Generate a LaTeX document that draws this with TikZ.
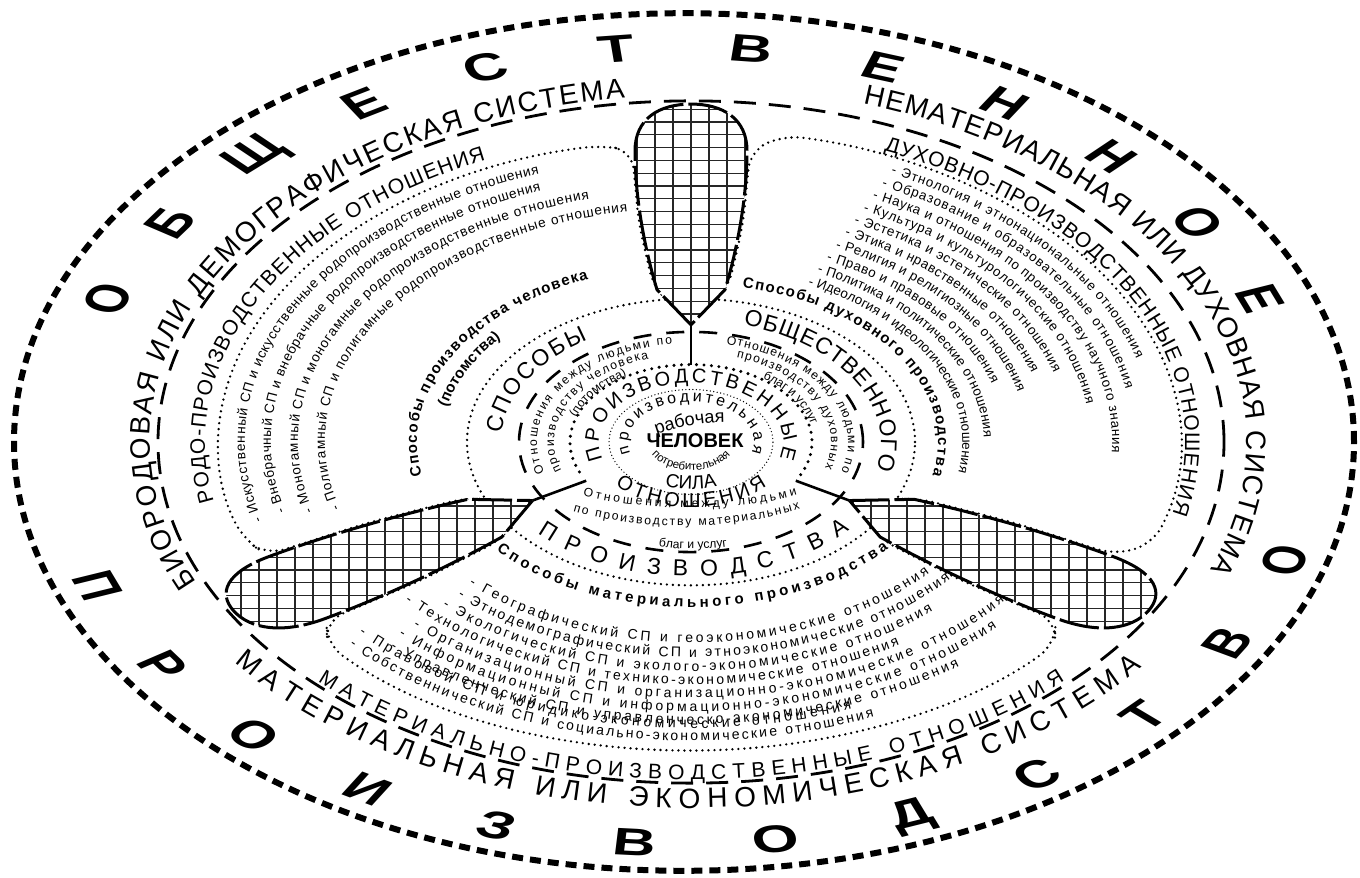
\documentclass[tikz,border=0pt]{standalone}
\usepackage{fontspec}
\setmainfont{Liberation Sans}
\usepackage{graphicx}
\usetikzlibrary{decorations.text}

\newcommand\myBig{\fontsize{60}{62}\selectfont\bfseries}
\newcommand\mySys{\fontsize{28}{30}\selectfont}
\newcommand\myRel{\fontsize{21}{23}\selectfont}
\newcommand\myListL{\fontsize{13.6}{15}\selectfont}
\newcommand\myListR{\fontsize{13.4}{15}\selectfont}
\newcommand\myList{\fontsize{14}{16}\selectfont}
\newcommand\myLab{\fontsize{15}{17}\selectfont\bfseries}
\newcommand\myRing{\fontsize{23}{25}\selectfont}
\newcommand\myCore{\fontsize{20}{22}\selectfont}
\newcommand\myInner{\fontsize{12.2}{14}\selectfont}
\newcommand\myProd{\fontsize{16}{18}\selectfont}
\newcommand\mySila{\fontsize{19}{21}\selectfont}
\newcommand\myTiny{\fontsize{11.5}{13}\selectfont}

\newcommand\arctext[5]{%
  \pgfmathsetmacro\arcry{#1*0.64}%
  \path[decorate,decoration={text along path,text={#5},text align={#4}}]
    (#2:#1 and \arcry) arc[start angle=#2,end angle=#3,x radius=#1,y radius=\arcry];}

\newcommand\petalpath{(0,183) -- (-34,238) .. controls (-46,300) and (-56,380) .. (-56,455) .. controls (-56,505) and (-32,528) .. (0,528) .. controls (32,528) and (56,505) .. (56,455) .. controls (56,380) and (46,300) .. (34,238) -- cycle}

\begin{document}
\begin{tikzpicture}[x=1pt,y=1pt,
  outerring/.style={line width=6pt, dash pattern=on 11pt off 7pt},
  sysring/.style={line width=2.8pt, dash pattern=on 22pt off 13pt},
  dotline/.style={line width=2.6pt, line cap=round, dash pattern=on 0pt off 6pt},
  bigdotline/.style={line width=3.4pt, line cap=round, dash pattern=on 0pt off 7.5pt},
  finedotline/.style={line width=1.4pt, line cap=round, dash pattern=on 0pt off 3.5pt},
  ringdash/.style={line width=2.6pt, dash pattern=on 18pt off 15pt},
  petalline/.style={line width=3pt, dash pattern=on 40pt off 5pt, line join=round},
  gridline/.style={line width=1.2pt, black!85},
  conn/.style={line width=2.6pt},
  bigletter/.style={inner sep=0pt}]

\path[use as bounding box, fill=white] (0,0) rectangle (1360,878);

% ---------- outer ring and big letters ----------
\begin{scope}[shift={(684,436)}]
  \draw[outerring] (0,0) ellipse[x radius=670, y radius=428.8];
  \foreach \L [count=\i from 0] in {О,Б,Щ,Е,С,Т,В,Е,Н,Н,О,Е}{
    \pgfmathsetmacro\lang{158.75-12.5*\i}
    \pgfmathsetmacro\lrot{\lang-90}
    \node[bigletter] (top\i) at (\lang:618 and 395.5) {\scalebox{1}[0.64]{\rotatebox{\lrot}{\myBig\L}}};
  }
  \foreach \L [count=\i from 0] in {П,Р,О,И,З,В,О,Д,С,Т,В,О}{
    \pgfmathsetmacro\lang{201+12.9*\i}
    \pgfmathsetmacro\lrot{\lang+90}
    \node[bigletter] (bot\i) at (\lang:628 and 402) {\scalebox{1}[0.64]{\rotatebox{\lrot}{\myBig\L}}};
  }
\end{scope}

% ---------- inner structure ----------
\begin{scope}[shift={(691,436)}]
  \begin{scope}[yscale=0.64]
    \draw[sysring] (0,0) circle[radius=533];
    \foreach \pa/\pb/\ro in {90/210/472, -30/90/488, 210/330/482}{
      \pgfmathsetmacro\sa{\pa+11}
      \pgfmathsetmacro\sb{\pb-11}
      \draw[dotline, rounded corners=18pt] (\pa+6.5:224) -- (\pa+8.8:241) -- (\pa+8.7:345) -- (\pa+7.4:459) -- (\sa:\ro)
        arc[start angle=\sa, end angle=\sb, radius=\ro]
        -- (\pb-7.4:459) -- (\pb-8.7:345) -- (\pb-8.8:241) -- (\pb-6.5:224);
    }
    \draw[dotline] (0,0) circle[radius=224];
    \draw[ringdash] (0,0) circle[radius=172];
    \draw[bigdotline] (-25:121) arc[start angle=-25, end angle=205, radius=121];
    \draw[finedotline] (0,0) circle[radius=82];
    \foreach \r in {0,120,240}{
      \begin{scope}
        \clip[rotate=\r] \petalpath;
        \fill[white] (-700,-700) rectangle (700,700);
        \draw[gridline, xstep=18, ystep=20] (-700,-700) grid (700,700);
      \end{scope}
      \draw[petalline, rotate=\r] \petalpath;
    }
    \coordinate (tipT) at (90:183);  \coordinate (hubT) at (90:121);
    \coordinate (tipL) at (210:183); \coordinate (hubL) at (210:121);
    \coordinate (tipR) at (330:183); \coordinate (hubR) at (330:121);
    \draw[conn] (tipT) -- (hubT);
    \draw[conn] (tipL) -- (hubL);
    \draw[conn] (tipR) -- (hubR);
  \end{scope}

  % system texts
  \arctext{541}{204}{97}{fit to path}{|\mySys|БИОРОДОВАЯ ИЛИ ДЕМОГРАФИЧЕСКАЯ СИСТЕМА}
  \arctext{556}{72}{-21}{fit to path}{|\mySys|НЕМАТЕРИАЛЬНАЯ ИЛИ ДУХОВНАЯ СИСТЕМА}
  \arctext{572}{217}{322}{fit to path}{|\mySys|МАТЕРИАЛЬНАЯ ИЛИ ЭКОНОМИЧЕСКАЯ СИСТЕМА}

  % relations texts
  \arctext{486}{191}{115}{fit to path}{|\myRel|РОДО-ПРОИЗВОДСТВЕННЫЕ ОТНОШЕНИЯ}
  \arctext{494}{67}{-13}{fit to path}{|\myRel|ДУХОВНО-ПРОИЗВОДСТВЕННЫЕ ОТНОШЕНИЯ}
  \arctext{528}{225}{315}{fit to path}{|\myRel|МАТЕРИАЛЬНО-ПРОИЗВОДСТВЕННЫЕ ОТНОШЕНИЯ}

  % left list
  \arctext{446}{196}{110}{fit to path}{|\myListL|- Искусственный СП и искусственные родопроизводственные отношения}
  \arctext{420}{195}{111}{fit to path}{|\myListL|- Внебрачный СП и внебрачные родопроизводственные отношения}
  \arctext{393}{196}{105}{fit to path}{|\myListL|- Моногамный СП и моногамные родопроизводственные отношения}
  \arctext{366}{196.5}{100}{fit to path}{|\myListL|- Полигамный СП и полигамные родопроизводственные отношения}

  % right list
  \arctext{464}{64.5}{16.3}{fit to path}{|\myListR|- Этнология и этнонациональные отношения}
  \arctext{442.6}{64.5}{10.8}{fit to path}{|\myListR|- Образование и образовательные отношения}
  \arctext{421.2}{64.5}{-2.2}{fit to path}{|\myListR|- Наука и отношения по производству научного знания}
  \arctext{399.8}{64.5}{8.5}{fit to path}{|\myListR|- Культура и культурологические отношения}
  \arctext{378.4}{64.5}{16.6}{fit to path}{|\myListR|- Эстетика и эстетические отношения}
  \arctext{357}{64.5}{17.5}{fit to path}{|\myListR|- Этика и нравственные отношения}
  \arctext{335.6}{64.5}{13.3}{fit to path}{|\myListR|- Религия и религиозные отношения}
  \arctext{314.2}{64.5}{16.8}{fit to path}{|\myListR|- Право и правовые отношения}
  \arctext{292.8}{64.5}{1.4}{fit to path}{|\myListR|- Политика и политические отношения}
  \arctext{271.4}{64.5}{-10}{fit to path}{|\myListR|- Идеология и идеологические отношения}

  % bottom list
  \arctext{314}{225}{319.4}{fit to path}{|\myList|- Географический СП и геоэкономические отношения}
  \arctext{336}{226}{320.5}{fit to path}{|\myList|- Этнодемографический СП и этноэкономические отношения}
  \arctext{358}{226}{312.4}{fit to path}{|\myList|- Экологический СП и эколого-экономические отношения}
  \arctext{379}{221}{303.3}{fit to path}{|\myList|- Технологический СП и технико-экономические отношения}
  \arctext{400}{226}{321.6}{fit to path}{|\myList|- Организационный СП и организационно-экономические отношения}
  \arctext{421}{226}{316.6}{fit to path}{|\myList|- Информационный СП и информационно-экономические отношения}
  \arctext{441}{227}{307.4}{fit to path}{|\myList|- Управленческий СП и управленческо-экономические отношения}
  \arctext{447}{222}{291}{fit to path}{|\myList|- Правовой СП и юридико-экономические отношения}
  \arctext{467}{223}{293}{fit to path}{|\myList|- Собственнический СП и социально-экономические отношения}

  % sector labels
  \arctext{274}{191}{112}{fit to path}{|\myLab|Способы производства человека}
  \arctext{250}{172}{136}{align=center}{|\myLab|(потомства)}
  \arctext{247}{78}{-12}{fit to path}{|\myLab|Способы духовного производства}
  \arctext{258}{221}{320}{fit to path}{|\myLab|Способы материального производства}

  % ring words
  \arctext{190}{176}{123}{fit to path}{|\myRing|СПОСОБЫ}
  \arctext{190}{74}{-13}{fit to path}{|\myRing|ОБЩЕСТВЕННОГО}
  \arctext{210}{223}{319}{fit to path}{|\myRing|ПРОИЗВОДСТВА}

  % inner relation groups
  \arctext{154}{198}{97}{fit to path}{|\myInner|Отношения между людьми по}
  \arctext{137}{199}{108}{fit to path}{|\myInner|производству человека}
  \arctext{121}{176}{112}{align=center}{|\myInner|(потомства)}
  \arctext{157}{77}{-17}{fit to path}{|\myInner|Отношения между людьми по}
  \arctext{140}{71}{-17}{fit to path}{|\myInner|производству духовных}
  \arctext{123}{70}{-10}{align=center}{|\myInner|благ и услуг}
  \path[decorate,decoration={text along path,text={|\myInner|Отношения между людьми},text align={fit to path}}]
    (-108,-53) .. controls (-51,-70) and (49,-70) .. (106,-53);
  \path[decorate,decoration={text along path,text={|\myInner|по производству материальных},text align={fit to path}}]
    (-118,-69) .. controls (-51,-89) and (39,-89) .. (109,-67);
  \path[decorate,decoration={text along path,text={|\myInner|благ и услуг},text align={align=center}}]
    (-53,-101) .. controls (-21,-109) and (24,-109) .. (57,-101);

  % core
  \arctext{92}{197}{-16}{fit to path}{|\myCore|ПРОИЗВОДСТВЕННЫЕ}
  \arctext{102}{222}{318}{fit to path}{|\myCore|ОТНОШЕНИЯ}
  \arctext{63}{196}{-16}{fit to path}{|\myProd|производительная}
  \path[decorate,decoration={text along path,text={|\fontsize{18}{20}\selectfont|рабочая},text align={align=center}}]
    (-46,3) .. controls (-15,16) and (15,21) .. (46,19);
  \node[font=\myCore\bfseries, inner sep=0pt] (chel) at (4,1) {ЧЕЛОВЕК};
  \arctext{44}{186}{354}{align=center}{|\myTiny|потребительная}
  \arctext{74}{246}{294}{align=center}{|\mySila|СИЛА}
\end{scope}
\end{tikzpicture}
\end{document}
